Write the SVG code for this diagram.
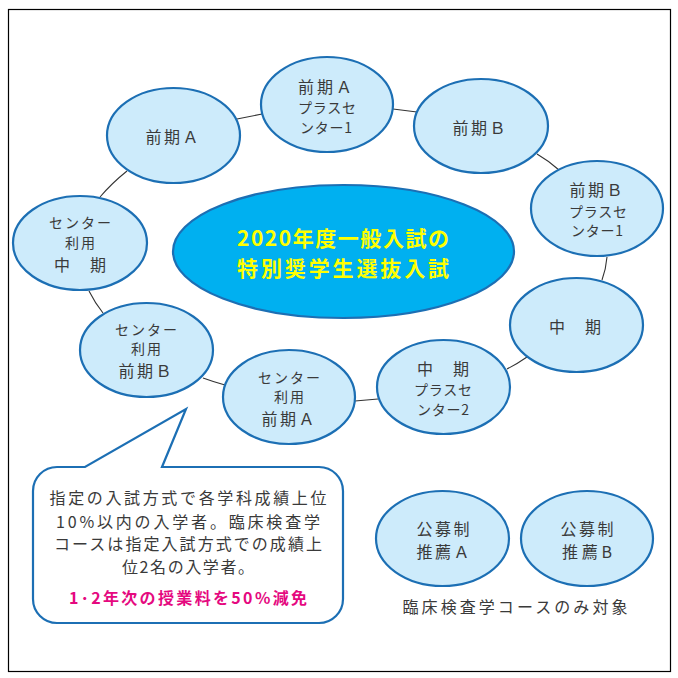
<svg xmlns="http://www.w3.org/2000/svg" width="678" height="678" viewBox="0 0 678 678">
<style>
.n{fill:#CDEBFB;stroke:#1C6FB4;stroke-width:2.2}
.c{fill:none;stroke:#333;stroke-width:1.1}
text{font-family:"Noto Sans CJK JP","Noto Sans",sans-serif;fill:#3a3a3a;text-anchor:middle}
.l{font-size:16px}
.s{font-size:14px}
.t{font-size:21px;font-weight:bold;fill:#FFFF00}
.b{font-size:16px}
.p{font-size:16px;font-weight:bold;fill:#E5097F}
</style>
<rect x="8.5" y="9.5" width="662" height="662" fill="#fff" stroke="#000" stroke-width="1.2"/>
<g id="connectors">
<path class="c" d="M237,119 L262,114"/>
<path class="c" d="M393,109 L417,112"/>
<path class="c" d="M537,154 Q549,161 559,170"/>
<path class="c" d="M607,257 Q606,269 602,280"/>
<path class="c" d="M507,369 Q517,364 527,357"/>
<path class="c" d="M355,401 L378,399"/>
<path class="c" d="M203,378 Q214,382 225,385"/>
<path class="c" d="M89,291 Q95,303 103,313"/>
<path class="c" d="M100,197 Q112,183 127,171"/>
</g>
<g id="center">
<ellipse cx="343.5" cy="251.5" rx="170.5" ry="66.5" fill="#00B0F0" stroke="#1C6FB4" stroke-width="2.2"/>
<text class="t" x="343" y="246" textLength="212" lengthAdjust="spacing">2020年度一般入試の</text>
<text class="t" x="343" y="276" textLength="212" lengthAdjust="spacing">特別奨学生選抜入試</text>
</g>
<g id="zenkiA">
<ellipse class="n" cx="173.5" cy="135.5" rx="66.5" ry="47.5"/>
<text class="l" x="172" y="143" textLength="53" lengthAdjust="spacing">前期Ａ</text>
</g>
<g id="zenkiA-plus">
<ellipse class="n" cx="327" cy="104.5" rx="66" ry="47.5"/>
<text class="l" x="325" y="93" textLength="54" lengthAdjust="spacing">前期Ａ</text>
<text class="s" x="327" y="113" textLength="58" lengthAdjust="spacing">プラスセ</text>
<text class="s" x="326" y="133" textLength="52" lengthAdjust="spacing">ンター1</text>
</g>
<g id="zenkiB">
<ellipse class="n" cx="481" cy="126" rx="67" ry="47"/>
<text class="l" x="479" y="134" textLength="53" lengthAdjust="spacing">前期Ｂ</text>
</g>
<g id="zenkiB-plus">
<ellipse class="n" cx="597" cy="208.5" rx="66" ry="47.5"/>
<text class="l" x="596" y="196" textLength="53" lengthAdjust="spacing">前期Ｂ</text>
<text class="s" x="598" y="217" textLength="58" lengthAdjust="spacing">プラスセ</text>
<text class="s" x="597" y="236" textLength="52" lengthAdjust="spacing">ンター1</text>
</g>
<g id="chuki">
<ellipse class="n" cx="576.5" cy="325" rx="66.5" ry="47"/>
<text class="l" x="575" y="333" textLength="52" lengthAdjust="spacing">中　期</text>
</g>
<g id="chuki-plus">
<ellipse class="n" cx="443.5" cy="387" rx="66.5" ry="47"/>
<text class="l" x="443" y="375" textLength="52" lengthAdjust="spacing">中　期</text>
<text class="s" x="443" y="395" textLength="58" lengthAdjust="spacing">プラスセ</text>
<text class="s" x="443" y="415" textLength="52" lengthAdjust="spacing">ンター2</text>
</g>
<g id="center-zenkiA">
<ellipse class="n" cx="289" cy="397" rx="66" ry="47"/>
<text class="s" x="289" y="383" textLength="62" lengthAdjust="spacing">センター</text>
<text class="s" x="289" y="402" textLength="30" lengthAdjust="spacing">利用</text>
<text class="l" x="288" y="425" textLength="53" lengthAdjust="spacing">前期Ａ</text>
</g>
<g id="center-zenkiB">
<ellipse class="n" cx="146.5" cy="350" rx="66.5" ry="47"/>
<text class="s" x="146" y="335" textLength="62" lengthAdjust="spacing">センター</text>
<text class="s" x="146" y="354" textLength="30" lengthAdjust="spacing">利用</text>
<text class="l" x="145" y="377" textLength="53" lengthAdjust="spacing">前期Ｂ</text>
</g>
<g id="center-chuki">
<ellipse class="n" cx="80" cy="243" rx="67" ry="47"/>
<text class="s" x="80" y="228" textLength="62" lengthAdjust="spacing">センター</text>
<text class="s" x="80" y="248" textLength="30" lengthAdjust="spacing">利用</text>
<text class="l" x="80" y="271" textLength="52" lengthAdjust="spacing">中　期</text>
</g>
<g id="suisenA">
<ellipse class="n" cx="442.5" cy="538.5" rx="66.5" ry="47.5"/>
<text class="l" x="443" y="535" textLength="53" lengthAdjust="spacing">公募制</text>
<text class="l" x="443" y="558" textLength="53" lengthAdjust="spacing">推薦Ａ</text>
</g>
<g id="suisenB">
<ellipse class="n" cx="587" cy="538.5" rx="66" ry="47.5"/>
<text class="l" x="587" y="535" textLength="53" lengthAdjust="spacing">公募制</text>
<text class="l" x="587" y="558" textLength="50" lengthAdjust="spacing">推薦B</text>
</g>
<text class="b" x="515" y="613" textLength="225" lengthAdjust="spacing">臨床検査学コースのみ対象</text>
<g id="callout">
<path d="M57,467 L85,467 L186,409 L162,467 L319,467 A24,24 0 0 1 343,491 L343,599 A24,24 0 0 1 319,623 L57,623 A24,24 0 0 1 33,599 L33,491 A24,24 0 0 1 57,467 Z" fill="#fff" stroke="#1C6FB4" stroke-width="2.2"/>
<text class="b" x="188" y="504" textLength="277" lengthAdjust="spacing">指定の入試方式で各学科成績上位</text>
<text class="b" x="188" y="528" textLength="264" lengthAdjust="spacing">10%以内の入学者。臨床検査学</text>
<text class="b" x="188" y="550" textLength="268" lengthAdjust="spacing">コースは指定入試方式での成績上</text>
<text class="b" x="188" y="573" textLength="132" lengthAdjust="spacing">位2名の入学者。</text>
<text class="p" x="188" y="604" textLength="238" lengthAdjust="spacing">1･2年次の授業料を50%減免</text>
</g>
</svg>
